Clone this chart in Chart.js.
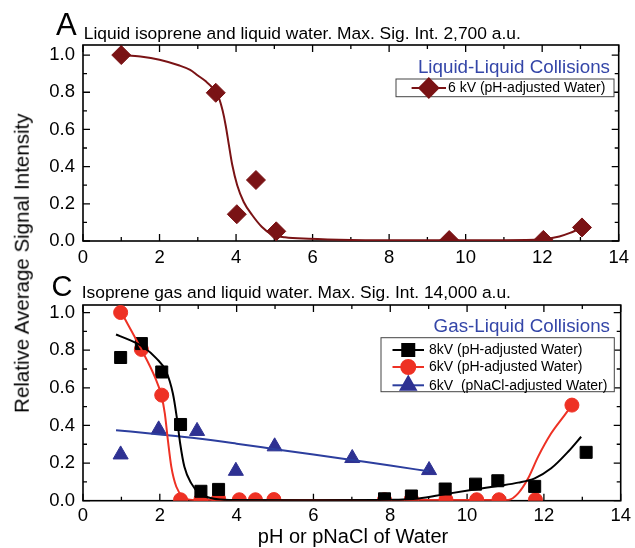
<!DOCTYPE html>
<html>
<head>
<meta charset="utf-8">
<script src="https://cdn.jsdelivr.net/npm/chart.js@4.4.1/dist/chart.umd.min.js"></script>
<style>
  body { margin: 0; background: #fff; }
  #wrap { position: relative; width: 635px; height: 548px; font-family: 'Liberation Sans', Arial, sans-serif; color: #000; }
  canvas { position: absolute; left: 0; }
  .txt { position: absolute; white-space: nowrap; line-height: 1; }
</style>
</head>
<body>
<div id="wrap">
  <canvas id="chartA" width="635" height="270" style="top:0"></canvas>
  <canvas id="chartC" width="635" height="278" style="top:270px"></canvas>

  <div class="txt" style="left:56px; top:8.8px; font-size:31px;">A</div>
  <div class="txt" style="left:83.8px; top:24.6px; font-size:17.4px;">Liquid isoprene and liquid water. Max. Sig. Int. 2,700 a.u.</div>
  <div class="txt" style="left:51.5px; top:271.5px; font-size:29px;">C</div>
  <div class="txt" style="left:81.7px; top:283.6px; font-size:17.4px;">Isoprene gas and liquid water. Max. Sig. Int. 14,000 a.u.</div>
  <div class="txt" style="left:-178.3px; top:252.75px; width:400px; text-align:center; font-size:20.5px; transform:rotate(-90deg);">Relative Average Signal Intensity</div>
  <div class="txt" style="left:153px; top:525.6px; width:400px; text-align:center; font-size:20px;">pH or pNaCl of Water</div>
</div>

<script>
// axis ticks
const X_TICKS = [0, 2, 4, 6, 8, 10, 12, 14];
const X_MINOR = [1, 3, 5, 7, 9, 11, 13];
const Y_TICKS = [0, 0.2, 0.4, 0.6, 0.8, 1.0];
const Y_MINOR = [0.1, 0.3, 0.5, 0.7, 0.9];

// panel A - liquid isoprene / liquid water, 6 kV
const A_PH = [1.0, 3.47, 4.02, 4.52, 5.05, 9.57, 12.03, 13.04];
const A_SIG = [1.0, 0.797, 0.144, 0.328, 0.052, 0.005, 0.006, 0.073];
const A_FIT_PH = [1.0, 1.5, 2.0, 2.5, 2.8, 3.0, 3.2, 3.4, 3.55, 3.65, 3.73, 3.81, 3.9, 4.03, 4.2, 4.42, 4.67, 4.93, 5.28, 5.9, 7, 9, 11, 12, 12.45, 12.71, 13.0];
const A_FIT_SIG = [1.0, 0.992, 0.975, 0.945, 0.92, 0.89, 0.86, 0.82, 0.77, 0.70, 0.62, 0.52, 0.41, 0.30, 0.21, 0.14, 0.077, 0.036, 0.02, 0.012, 0.006, 0.004, 0.004, 0.009, 0.024, 0.042, 0.068];

// panel C - isoprene gas / liquid water
const C8_PH = [0.98, 1.52, 2.05, 2.54, 3.07, 3.53, 7.85, 8.55, 9.43, 10.22, 10.8, 11.76, 13.1];
const C8_SIG = [0.761, 0.835, 0.684, 0.405, 0.05, 0.06, 0.01, 0.025, 0.062, 0.088, 0.106, 0.076, 0.257];
const C8_FIT_PH = [0.86, 1.22, 1.56, 1.91, 2.17, 2.34, 2.44, 2.53, 2.64, 2.82, 3.03, 3.38, 3.81, 6, 8, 8.74, 9.43, 10.22, 10.8, 11.33, 11.76, 12.19, 12.63, 12.97];
const C8_FIT_SIG = [0.883, 0.853, 0.818, 0.756, 0.685, 0.57, 0.446, 0.304, 0.18, 0.092, 0.039, 0.012, 0.004, 0.003, 0.005, 0.012, 0.035, 0.06, 0.078, 0.096, 0.119, 0.172, 0.26, 0.34];

const C6_PH = [0.98, 1.52, 2.05, 2.54, 3.07, 3.53, 4.07, 4.49, 4.97, 7.85, 8.55, 9.45, 10.25, 10.83, 11.78, 12.73];
const C6_SIG = [1.0, 0.804, 0.561, 0.005, 0.006, 0.01, 0.005, 0.005, 0.006, 0.005, 0.008, 0.005, 0.005, 0.005, 0.005, 0.508];
const C6_FIT_PH = [1.0, 1.52, 1.87, 2.04, 2.13, 2.21, 2.30, 2.43, 2.60, 2.86, 5, 8, 11.07, 11.33, 11.59, 11.85, 12.19, 12.54, 12.73];
const C6_FIT_SIG = [1.0, 0.804, 0.658, 0.561, 0.464, 0.322, 0.18, 0.074, 0.021, 0.004, 0.004, 0.004, 0.004, 0.039, 0.119, 0.234, 0.358, 0.455, 0.508];

const NACL_P = [0.98, 1.97, 2.97, 3.98, 4.99, 7.01, 9.01];
const NACL_SIG = [0.245, 0.378, 0.37, 0.158, 0.288, 0.226, 0.162];
const NACL_FIT_P = [0.86, 2, 3, 4, 5, 6, 7, 8, 9.0];
const NACL_FIT_SIG = [0.375, 0.352, 0.33, 0.303, 0.274, 0.245, 0.216, 0.187, 0.156];

const DARKRED = "#7a1315";
const RED = "#ee3124";
const BLUE = "#2e3192";
const BLUE_LINE = "#2c3e9e";
const TITLE_BLUE = "#3446a8";

Chart.defaults.font.family = "'Liberation Sans', Arial, sans-serif";
Chart.defaults.color = "#000";

const pts = (xs, ys) => xs.map((x, i) => ({ x, y: ys[i] }));

// box around the plot with inward ticks on all four sides
const frameTicks = {
  id: "frameTicks",
  beforeDatasetsDraw(chart) {
    const { ctx, chartArea: a, scales: { x, y } } = chart;
    ctx.save();
    ctx.strokeStyle = "#000";
    ctx.lineWidth = 1.6;
    ctx.strokeRect(a.left, a.top, a.right - a.left, a.bottom - a.top);
    ctx.lineWidth = 1.3;
    ctx.beginPath();
    const xt = (v, len) => {
      const px = x.getPixelForValue(v);
      ctx.moveTo(px, a.bottom); ctx.lineTo(px, a.bottom - len);
      ctx.moveTo(px, a.top); ctx.lineTo(px, a.top + len);
    };
    const yt = (v, len) => {
      const py = y.getPixelForValue(v);
      ctx.moveTo(a.left, py); ctx.lineTo(a.left + len, py);
      ctx.moveTo(a.right, py); ctx.lineTo(a.right - len, py);
    };
    X_TICKS.forEach(v => xt(v, 7));
    X_MINOR.forEach(v => xt(v, 4));
    Y_TICKS.forEach(v => yt(v, 7));
    Y_MINOR.forEach(v => yt(v, 4));
    ctx.stroke();
    ctx.restore();
  }
};

// legend box drawn inside the plot
const boxLegend = {
  id: "boxLegend",
  afterDraw(chart, args, opts) {
    const { ctx } = chart;
    ctx.save();
    ctx.fillStyle = TITLE_BLUE;
    ctx.font = "18.8px 'Liberation Sans', Arial, sans-serif";
    ctx.textAlign = "right";
    ctx.textBaseline = "alphabetic";
    ctx.fillText(opts.title, opts.titleX, opts.titleY);

    ctx.fillStyle = "#fff";
    ctx.fillRect(opts.box[0], opts.box[1], opts.box[2] - opts.box[0], opts.box[3] - opts.box[1]);
    ctx.strokeStyle = "#444";
    ctx.lineWidth = 1;
    ctx.strokeRect(opts.box[0], opts.box[1], opts.box[2] - opts.box[0], opts.box[3] - opts.box[1]);

    opts.items.forEach((it, i) => {
      const ds = chart.data.datasets[it.points];
      const line = chart.data.datasets[it.line];
      const yy = opts.rows[i];
      ctx.strokeStyle = line.borderColor;
      ctx.lineWidth = 2;
      ctx.beginPath();
      ctx.moveTo(opts.lineFrom, yy);
      ctx.lineTo(opts.lineTo, yy);
      ctx.stroke();
      ctx.fillStyle = ds.backgroundColor;
      ctx.strokeStyle = ds.borderColor;
      Chart.helpers.drawPoint(ctx, { pointStyle: ds.pointStyle, radius: ds.pointRadius, rotation: 0, borderWidth: 1 },
        (opts.lineFrom + opts.lineTo) / 2, yy);
      ctx.fillStyle = "#000";
      ctx.font = "14px 'Liberation Sans', Arial, sans-serif";
      ctx.textAlign = "left";
      ctx.textBaseline = "middle";
      ctx.fillText(ds.label, opts.textX, yy + 0.5);
    });
    ctx.restore();
  }
};

function axes(ymax, xHeight, xPad) {
  return {
    x: {
      type: "linear", min: 0, max: 14,
      grid: { display: false, drawTicks: false },
      border: { display: false },
      ticks: { font: { size: 18.5 }, padding: xPad, autoSkip: false, maxRotation: 0 },
      afterBuildTicks: s => { s.ticks = X_TICKS.map(v => ({ value: v })); },
      afterFit: s => { s.height = xHeight; }
    },
    y: {
      type: "linear", min: 0, max: ymax,
      grid: { display: false, drawTicks: false },
      border: { display: false },
      ticks: { font: { size: 18.5 }, padding: 8, callback: v => v.toFixed(1) },
      afterBuildTicks: s => { s.ticks = Y_TICKS.map(v => ({ value: v })); },
      afterFit: s => { s.width = 83; }
    }
  };
}

function fitLine(label, xs, ys, color) {
  return {
    label, data: pts(xs, ys), showLine: true, borderColor: color, borderWidth: 2,
    pointRadius: 0, cubicInterpolationMode: "monotone", fill: false
  };
}

function markers(label, xs, ys, color, style, r) {
  return {
    label, data: pts(xs, ys), showLine: false, pointStyle: style, pointRadius: r,
    backgroundColor: color, borderColor: color, borderWidth: 1
  };
}

new Chart(document.getElementById("chartA"), {
  type: "scatter",
  data: {
    datasets: [
      fitLine("fit", A_FIT_PH, A_FIT_SIG, DARKRED),
      markers("6 kV (pH-adjusted Water)", A_PH, A_SIG, DARKRED, "rectRot", 9.5)
    ]
  },
  options: {
    responsive: false, animation: false,
    layout: { padding: { top: 45, right: 11.7, left: 0, bottom: 0 } },
    scales: axes(1.054, 29, 6),
    plugins: {
      legend: { display: false }, tooltip: { enabled: false },
      boxLegend: {
        title: "Liquid-Liquid Collisions", titleX: 610, titleY: 72.7,
        box: [396, 79, 614, 96.7], rows: [88], lineFrom: 411.6, lineTo: 446, textX: 448,
        items: [{ points: 1, line: 0 }]
      }
    }
  },
  plugins: [frameTicks, boxLegend]
});

new Chart(document.getElementById("chartC"), {
  type: "scatter",
  data: {
    datasets: [
      fitLine("fit 8kV", C8_FIT_PH, C8_FIT_SIG, "#000"),
      fitLine("fit 6kV", C6_FIT_PH, C6_FIT_SIG, RED),
      fitLine("fit NaCl", NACL_FIT_P, NACL_FIT_SIG, BLUE_LINE),
      markers("8kV (pH-adjusted Water)", C8_PH, C8_SIG, "#000", "rect", 8.5),
      markers("6kV (pH-adjusted Water)", C6_PH, C6_SIG, RED, "circle", 7),
      markers("6kV  (pNaCl-adjusted Water)", NACL_P, NACL_SIG, BLUE, "triangle", 8.7)
    ]
  },
  options: {
    responsive: false, animation: false,
    layout: { padding: { top: 35, right: 11.7, left: 0, bottom: 0 } },
    scales: axes(1.04, 47.3, 4),
    plugins: {
      legend: { display: false }, tooltip: { enabled: false },
      boxLegend: {
        title: "Gas-Liquid Collisions", titleX: 610, titleY: 62.3,
        box: [381, 67.7, 614.3, 121.7], rows: [80, 97, 115.3], lineFrom: 392.5, lineTo: 424, textX: 429,
        items: [{ points: 3, line: 0 }, { points: 4, line: 1 }, { points: 5, line: 2 }]
      }
    }
  },
  plugins: [frameTicks, boxLegend]
});
</script>
</body>
</html>
